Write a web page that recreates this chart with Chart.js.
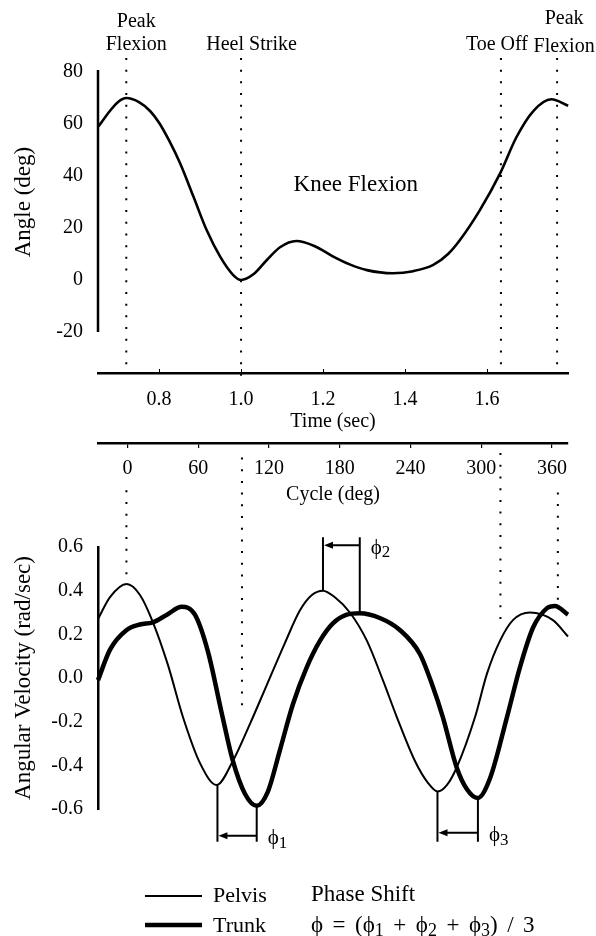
<!DOCTYPE html>
<html><head><meta charset="utf-8">
<script src="https://cdn.jsdelivr.net/npm/chart.js@4.4.1/dist/chart.umd.min.js"></script>
<style>
html,body{margin:0;padding:0;background:#fff;}
#wrap{position:relative;width:596px;height:936px;background:#fff;}
canvas{position:absolute;left:0;top:0;}
</style></head><body>
<div id="wrap"><canvas id="topc" width="596" height="936"></canvas><canvas id="botc" width="596" height="936"></canvas></div>
<script>
const FONT = '"Liberation Serif", "Times New Roman", serif';

// ---- Knee flexion (top panel) ----
const TIME = [0.652, 0.68, 0.70, 0.72, 0.75, 0.778, 0.80, 0.825, 0.851, 0.884, 0.916, 0.949, 0.981, 1.0, 1.03, 1.063, 1.095, 1.135, 1.18, 1.225, 1.265, 1.307, 1.37, 1.42, 1.469, 1.505, 1.534, 1.583, 1.632, 1.672, 1.713, 1.757, 1.798];
const KNEE = [59, 65, 68.5, 70, 68.5, 65, 60.5, 53.5, 45, 32, 19.2, 9, 1.9, 0, 2.2, 7.7, 12.6, 15, 13, 9, 6, 3.8, 2.6, 3.4, 5.8, 10, 15.4, 27, 41, 55, 65, 69.5, 67];

// ---- Angular velocity (bottom panel) ----
const CYC_PELVIS = [-25, -14.8, -0.7, 10.6, 21.6, 34.3, 47.1, 61.5, 75.6, 89.4, 103.9, 118.3, 133.5, 146.3, 156.4, 165.7, 175.9, 188.6, 203.1, 216.6, 228.5, 243.8, 254.8, 263.1, 271.0, 279.2, 294.7, 304.9, 315.9, 326.9, 341.3, 360.8, 373.6];
const PELVIS = [0.27, 0.37, 0.43, 0.38, 0.255, 0.06, -0.18, -0.39, -0.49, -0.38, -0.21, -0.03, 0.16, 0.31, 0.38, 0.40, 0.37, 0.30, 0.17, -0.01, -0.18, -0.38, -0.48, -0.52, -0.49, -0.41, -0.18, 0.02, 0.17, 0.265, 0.30, 0.265, 0.19];
const CYC_TRUNK = [-25, -14.8, -0.7, 10.6, 21.6, 33.5, 46.0, 57.2, 68.3, 79.9, 89.4, 99.6, 109.6, 119.1, 129.3, 140.3, 152.1, 163.2, 174.2, 186.0, 197.0, 214.0, 231.0, 248.0, 259.0, 267.5, 279.2, 287.9, 297.0, 307.4, 321.8, 332.9, 343.9, 355.8, 362.5, 373.6];
const TRUNK = [-0.01, 0.13, 0.22, 0.245, 0.255, 0.29, 0.326, 0.29, 0.12, -0.16, -0.38, -0.53, -0.585, -0.52, -0.33, -0.12, 0.05, 0.17, 0.25, 0.29, 0.297, 0.275, 0.22, 0.11, -0.04, -0.18, -0.41, -0.51, -0.55, -0.46, -0.18, 0.05, 0.23, 0.32, 0.33, 0.29];

// ---- ticks ----
const TIME_TICKS = [0.8, 1.0, 1.2, 1.4, 1.6];
const CYCLE_TICKS = [0, 60, 120, 180, 240, 300, 360];
const ANGLE_TICKS = [-20, 0, 20, 40, 60, 80];
const VEL_TICKS = [-0.6, -0.4, -0.2, 0.0, 0.2, 0.4, 0.6];

// ---- gait events ----
const EVENT_NAMES = [['Peak', 'Flexion'], ['Heel Strike'], ['Toe Off'], ['Peak', 'Flexion']];
const EVENT_TIME = [0.720, 1.0, 1.634, 1.771];
const EVENT_CYCLE = [-0.9, 97.1, 316.3, 365.0];
const EVENT_TOP_FROM = [85.4, 85.4, 85.4, 85.4];
const EVENT_TOP_TO = [-35.8, -38.8, -35.8, -35.8];
const EVENT_BOT_FROM = [0.86, 1.01, 1.03, 0.85];
const EVENT_BOT_TO = [0.457, -0.128, 0.258, 0.357];

// ---- phase shift markers ----
const PHASE_PELVIS_X = [76.3, 165.8, 262.9];
const PHASE_PELVIS_Y = [-0.49, 0.40, -0.52];
const PHASE_TRUNK_X = [109.6, 197.0, 297.2];
const PHASE_TRUNK_Y = [-0.585, 0.297, -0.55];
const PHASE_END_Y = [-0.75, 0.645, -0.75];
const PHASE_ARROW_Y = [-0.722, 0.608, -0.709];
const PHASE_SUBS = ['1', '2', '3'];

const TIME_MIN = 0.651, TIME_MAX = 1.7976;
const CYC_MIN = -25.0, CYC_MAX = 373.6;

const BLACK = '#000';
const tickFont = {family: FONT, size: 20};
const xTitleFont = {family: FONT, size: 20};
const yTitleFont = {family: FONT, size: 23};

function setTicks(list) { return (s) => { s.ticks = list.map(v => ({value: v})); }; }

function dotted(xs, from, to) {
  return xs.map((x, i) => ({
    type: 'line',
    data: [{x: x, y: from[i]}, {x: x, y: to[i]}],
    borderColor: BLACK, borderWidth: 2, borderDash: [2, 9.7], pointRadius: 0, clip: false, fill: false
  }));
}

// parts: [text, isSub]; spaces advance by spaceW
function richText(ctx, parts, x, y, size, subSize, spaceW) {
  let cx = x;
  for (const [t, sub] of parts) {
    ctx.font = (sub ? subSize : size) + 'px ' + FONT;
    for (const ch of t) {
      if (ch === ' ' && spaceW) { cx += spaceW; continue; }
      ctx.fillText(ch, cx, y + (sub ? size * 0.22 : 0));
      cx += ctx.measureText(ch).width;
    }
  }
}

const topDeco = {
  id: 'topDeco',
  afterDraw(chart) {
    const {ctx, chartArea, scales} = chart;
    const x = scales.x, y = scales.y;
    ctx.save();
    ctx.strokeStyle = BLACK; ctx.fillStyle = BLACK;
    ctx.lineWidth = 2.5;
    ctx.beginPath();
    ctx.moveTo(chartArea.left, y.getPixelForValue(ANGLE_TICKS[ANGLE_TICKS.length - 1]) - 2);
    ctx.lineTo(chartArea.left, y.getPixelForValue(ANGLE_TICKS[0]));
    ctx.stroke();
    ctx.lineWidth = 1;
    TIME_TICKS.forEach(v => {
      const px = Math.round(x.getPixelForValue(v)) + 0.5;
      ctx.beginPath(); ctx.moveTo(px, chartArea.bottom); ctx.lineTo(px, chartArea.bottom - 4); ctx.stroke();
    });
    ctx.textAlign = 'center'; ctx.textBaseline = 'middle';
    ctx.font = '20px ' + FONT;
    const dx = [10, 10.5, -4, 7];
    const rowsY = [[22, 45], [45], [45], [19, 47]];
    EVENT_NAMES.forEach((lines, i) => {
      const px = x.getPixelForValue(EVENT_TIME[i]) + dx[i];
      lines.forEach((t, j) => ctx.fillText(t, px, rowsY[i][j]));
    });
    ctx.font = '23px ' + FONT;
    ctx.fillText('Knee Flexion', x.getPixelForValue(1.28), y.getPixelForValue(36.5));
    ctx.restore();
  }
};

const botDeco = {
  id: 'botDeco',
  afterDraw(chart) {
    const {ctx, scales} = chart;
    const x = scales.x, y = scales.y;
    ctx.save();
    ctx.strokeStyle = BLACK; ctx.fillStyle = BLACK;
    ctx.lineWidth = 2;
    ctx.textAlign = 'left'; ctx.textBaseline = 'middle';
    for (let i = 0; i < 3; i++) {
      const xp = x.getPixelForValue(PHASE_PELVIS_X[i]);
      const xt = x.getPixelForValue(PHASE_TRUNK_X[i]);
      const yp = y.getPixelForValue(PHASE_PELVIS_Y[i]);
      const yt = y.getPixelForValue(PHASE_TRUNK_Y[i]);
      const ye = y.getPixelForValue(PHASE_END_Y[i]);
      const ya = y.getPixelForValue(PHASE_ARROW_Y[i]);
      ctx.beginPath();
      ctx.moveTo(xp, yp); ctx.lineTo(xp, ye);
      ctx.moveTo(xt, yt); ctx.lineTo(xt, ye);
      ctx.moveTo(xt, ya); ctx.lineTo(xp + 6, ya);
      ctx.stroke();
      ctx.beginPath();
      ctx.moveTo(xp + 1, ya); ctx.lineTo(xp + 10, ya - 3.5); ctx.lineTo(xp + 10, ya + 3.5); ctx.closePath();
      ctx.fill();
      richText(ctx, [['\u03D5', false], [PHASE_SUBS[i], true]], xt + 11, ya + 3, 21, 17, 0);
    }
    // legend
    ctx.lineWidth = 2;
    ctx.beginPath(); ctx.moveTo(145, 896); ctx.lineTo(202, 896); ctx.stroke();
    ctx.lineWidth = 4.5;
    ctx.beginPath(); ctx.moveTo(145, 925); ctx.lineTo(202, 925); ctx.stroke();
    ctx.font = '22px ' + FONT;
    ctx.fillText('Pelvis', 213, 896);
    ctx.fillText('Trunk', 213, 926);
    ctx.font = '23px ' + FONT;
    ctx.fillText('Phase Shift', 311, 895);
    richText(ctx, [['\u03D5 = (\u03D5', false], ['1', true], [' + \u03D5', false], ['2', true], [' + \u03D5', false], ['3', true], [') / 3', false]], 311, 926, 23, 18, 9.5);
    ctx.restore();
  }
};

const topChart = new Chart(document.getElementById('topc'), {
  type: 'line',
  data: {
    datasets: [
      {data: TIME.map((t, i) => ({x: t, y: KNEE[i]})), borderColor: BLACK, borderWidth: 2.6,
       pointRadius: 0, cubicInterpolationMode: 'monotone', fill: false, clip: false},
      ...dotted(EVENT_TIME, EVENT_TOP_FROM, EVENT_TOP_TO)
    ]
  },
  options: {
    responsive: false, animation: false, devicePixelRatio: 1,
    elements: {line: {capBezierPoints: false}},
    layout: {padding: {left: 0, right: 28, top: 31, bottom: 421}},
    plugins: {legend: {display: false}, tooltip: {enabled: false}},
    scales: {
      x: {
        type: 'linear', position: 'bottom', min: TIME_MIN, max: TIME_MAX, weight: 0,
        afterBuildTicks: setTicks(TIME_TICKS),
        afterFit: (s) => { s.height = 70; },
        grid: {display: false, drawTicks: false},
        border: {display: true, color: BLACK, width: 2.5},
        ticks: {font: tickFont, color: BLACK, padding: 15, autoSkip: false, maxRotation: 0,
                callback: (v) => Number(v).toFixed(1)},
        title: {display: true, text: 'Time (sec)', font: xTitleFont, color: BLACK, padding: {top: 0, bottom: 9}}
      },
      x2: {
        type: 'linear', position: 'bottom', min: CYC_MIN, max: CYC_MAX, weight: 1,
        afterBuildTicks: setTicks(CYCLE_TICKS),
        afterFit: (s) => { s.height = 72; },
        grid: {display: true, drawOnChartArea: false, drawTicks: true, tickLength: 5, color: BLACK, lineWidth: 1.2},
        border: {display: true, color: BLACK, width: 2.5},
        ticks: {font: tickFont, color: BLACK, padding: 9, autoSkip: false, maxRotation: 0,
                callback: (v) => String(v)},
        title: {display: true, text: 'Cycle (deg)', font: xTitleFont, color: BLACK, padding: {top: 0, bottom: 8}}
      },
      y: {
        type: 'linear', position: 'left', min: -35.77, max: 95.77,
        afterBuildTicks: setTicks(ANGLE_TICKS),
        afterFit: (s) => { s.width = 98; },
        grid: {display: false, drawTicks: false},
        border: {display: false},
        ticks: {font: tickFont, color: BLACK, padding: 15, callback: (v) => String(v)},
        title: {display: true, text: 'Angle (deg)', font: yTitleFont, color: BLACK, padding: {top: 10, bottom: 0}}
      }
    }
  },
  plugins: [topDeco]
});

const botChart = new Chart(document.getElementById('botc'), {
  type: 'line',
  data: {
    datasets: [
      {data: CYC_PELVIS.map((c, i) => ({x: c, y: PELVIS[i]})), borderColor: BLACK, borderWidth: 2,
       pointRadius: 0, cubicInterpolationMode: 'monotone', fill: false, clip: false},
      {data: CYC_TRUNK.map((c, i) => ({x: c, y: TRUNK[i]})), borderColor: BLACK, borderWidth: 4.5,
       pointRadius: 0, cubicInterpolationMode: 'monotone', fill: false, clip: false},
      ...dotted(EVENT_CYCLE, EVENT_BOT_FROM, EVENT_BOT_TO)
    ]
  },
  options: {
    responsive: false, animation: false, devicePixelRatio: 1,
    elements: {line: {capBezierPoints: false}},
    layout: {padding: {left: 0, right: 28, top: 547, bottom: 127}},
    plugins: {legend: {display: false}, tooltip: {enabled: false}},
    scales: {
      x: {type: 'linear', min: CYC_MIN, max: CYC_MAX, display: false},
      y: {
        type: 'linear', position: 'left', min: -0.6, max: 0.6,
        afterBuildTicks: setTicks(VEL_TICKS),
        afterFit: (s) => { s.width = 98; },
        grid: {display: false, drawTicks: false},
        border: {display: true, color: BLACK, width: 2.5},
        ticks: {font: tickFont, color: BLACK, padding: 15, callback: (v) => Number(v).toFixed(1)},
        title: {display: true, text: 'Angular Velocity (rad/sec)', font: yTitleFont, color: BLACK, padding: {top: 10, bottom: 0}}
      }
    }
  },
  plugins: [botDeco]
});
</script>
</body></html>
